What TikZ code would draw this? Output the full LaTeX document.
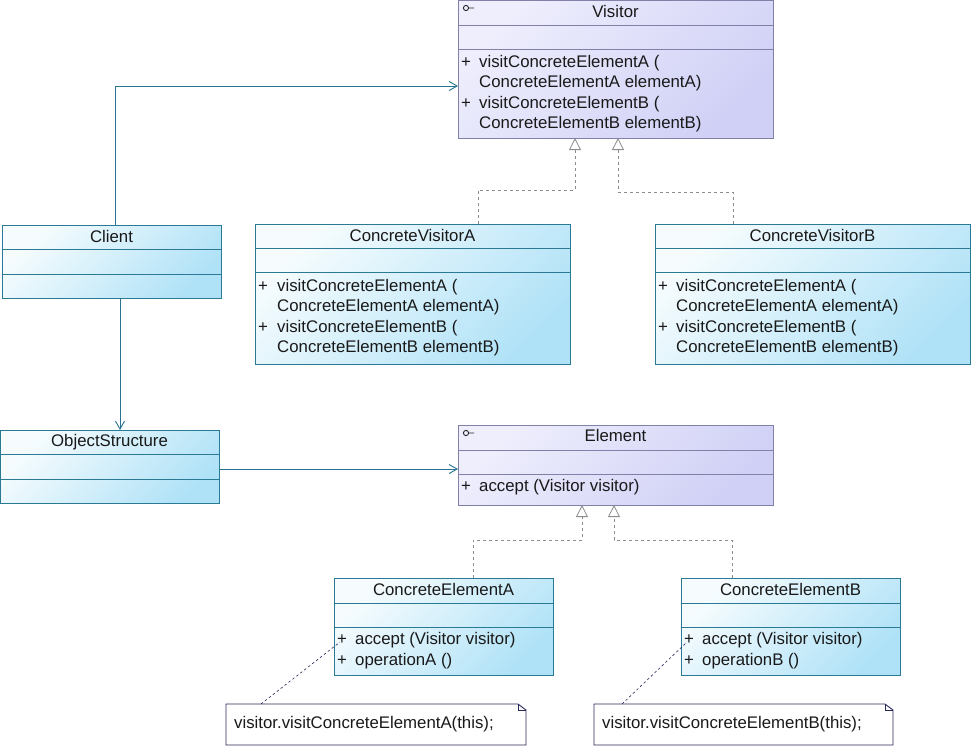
\documentclass[tikz,border=0pt]{standalone}
\usepackage{fontspec}
\setmainfont{Liberation Sans}
\usetikzlibrary{arrows.meta,calc}
\definecolor{cborder}{RGB}{42,122,150}
\definecolor{clight}{RGB}{246,252,254}
\definecolor{cdark}{RGB}{176,226,247}
\definecolor{iborder}{RGB}{128,128,168}
\definecolor{ilight}{RGB}{238,238,253}
\definecolor{idark}{RGB}{208,208,246}
\definecolor{acolor}{RGB}{40,115,145}
\definecolor{rcolor}{RGB}{140,140,140}
\definecolor{ncolor}{RGB}{40,40,90}
\definecolor{tcolor}{RGB}{25,25,25}
\begin{document}
\begin{tikzpicture}[x=1pt,y=-1pt,
  cbox/.style={draw=cborder,line width=0.9pt,top color=clight,bottom color=cdark,shading angle=45,anchor=north west,inner sep=0pt,outer sep=0pt},
  ibox/.style={draw=iborder,line width=0.9pt,top color=ilight,bottom color=idark,shading angle=45,anchor=north west,inner sep=0pt,outer sep=0pt},
  notebox/.style={anchor=north west,inner sep=0pt,outer sep=0pt},
  txt/.style={font={\fontsize{16.8}{20}\selectfont},text=tcolor,inner sep=0pt,anchor=base west},
  ttl/.style={font={\fontsize{16.8}{20}\selectfont},text=tcolor,inner sep=0pt,anchor=base},
  csep/.style={draw=cborder,line width=0.9pt},
  isep/.style={draw=iborder,line width=0.9pt},
  assoc/.style={draw=acolor,line width=0.9pt,-{Straight Barb[length=8pt,width=9pt,line width=0.9pt]}},
  realize/.style={draw=rcolor,line width=0.8pt,dash pattern=on 3pt off 3pt,-{Triangle[length=12pt,width=12pt,fill=white,line width=0.8pt]}},
  notelink/.style={draw=ncolor,line width=0.6pt,dash pattern=on 2.5pt off 2.5pt},
  noteline/.style={draw=ncolor,line width=0.9pt},
  icon/.style={draw=black!85,line width=0.9pt}]
\useasboundingbox[fill=white] (0,0) rectangle (973,747);

% ---------- Visitor ----------
\node[ibox,minimum width=315pt,minimum height=138pt] (visitor) at (458,0) {};
\draw[isep] (visitor.west |- 0,25) -- (visitor.east |- 0,25);
\draw[isep] (visitor.west |- 0,49) -- (visitor.east |- 0,49);
\draw[icon] ([xshift=8pt,yshift=-8pt]visitor.north west) circle[radius=2.6pt] ++(2.6,0) -- ++(5.5,0);
\node[ttl] (visitorT) at (615.5,17.5) {Visitor};
\node[txt] (visitorP1) at (461,67) {+};
\node[txt] (visitorM1) at (479,67) {visitConcreteElementA (};
\node[txt] (visitorM1b) at (479,87.5) {ConcreteElementA elementA)};
\node[txt] (visitorP2) at (461,108) {+};
\node[txt] (visitorM2) at (479,108) {visitConcreteElementB (};
\node[txt] (visitorM2b) at (479,128) {ConcreteElementB elementB)};

% ---------- Client ----------
\node[cbox,minimum width=219pt,minimum height=73pt] (client) at (2,225) {};
\draw[csep] (client.west |- 0,249) -- (client.east |- 0,249);
\draw[csep] (client.west |- 0,274) -- (client.east |- 0,274);
\node[ttl] (clientT) at (111.5,242) {Client};

% ---------- ConcreteVisitorA ----------
\node[cbox,minimum width=315pt,minimum height=140pt] (cva) at (255,224) {};
\draw[csep] (cva.west |- 0,248) -- (cva.east |- 0,248);
\draw[csep] (cva.west |- 0,272) -- (cva.east |- 0,272);
\node[ttl] (cvaT) at (412.5,241.5) {ConcreteVisitorA};
\node[txt] (cvaP1) at (258,291) {+};
\node[txt] (cvaM1) at (277,291) {visitConcreteElementA (};
\node[txt] (cvaM1b) at (277,311.5) {ConcreteElementA elementA)};
\node[txt] (cvaP2) at (258,332) {+};
\node[txt] (cvaM2) at (277,332) {visitConcreteElementB (};
\node[txt] (cvaM2b) at (277,352) {ConcreteElementB elementB)};

% ---------- ConcreteVisitorB ----------
\node[cbox,minimum width=315pt,minimum height=140pt] (cvb) at (655,224) {};
\draw[csep] (cvb.west |- 0,248) -- (cvb.east |- 0,248);
\draw[csep] (cvb.west |- 0,272) -- (cvb.east |- 0,272);
\node[ttl] (cvbT) at (812.5,241.5) {ConcreteVisitorB};
\node[txt] (cvbP1) at (658,291) {+};
\node[txt] (cvbM1) at (676,291) {visitConcreteElementA (};
\node[txt] (cvbM1b) at (676,311.5) {ConcreteElementA elementA)};
\node[txt] (cvbP2) at (658,332) {+};
\node[txt] (cvbM2) at (676,332) {visitConcreteElementB (};
\node[txt] (cvbM2b) at (676,352) {ConcreteElementB elementB)};

% ---------- ObjectStructure ----------
\node[cbox,minimum width=219pt,minimum height=73pt] (os) at (0,430) {};
\draw[csep] (os.west |- 0,454) -- (os.east |- 0,454);
\draw[csep] (os.west |- 0,479) -- (os.east |- 0,479);
\node[ttl] (osT) at (109.5,446.5) {ObjectStructure};

% ---------- Element ----------
\node[ibox,minimum width=315pt,minimum height=80pt] (element) at (458,425) {};
\draw[isep] (element.west |- 0,450) -- (element.east |- 0,450);
\draw[isep] (element.west |- 0,474) -- (element.east |- 0,474);
\draw[icon] ([xshift=8pt,yshift=-8pt]element.north west) circle[radius=2.6pt] ++(2.6,0) -- ++(5.5,0);
\node[ttl] (elementT) at (615.5,441.5) {Element};
\node[txt] (elementP1) at (461,491) {+};
\node[txt] (elementM1) at (479,491) {accept (Visitor visitor)};

% ---------- ConcreteElementA ----------
\node[cbox,minimum width=219pt,minimum height=97pt] (cea) at (334,578) {};
\draw[csep] (cea.west |- 0,603) -- (cea.east |- 0,603);
\draw[csep] (cea.west |- 0,627) -- (cea.east |- 0,627);
\node[ttl] (ceaT) at (443.5,595) {ConcreteElementA};
\node[txt] (ceaP1) at (337,644) {+};
\node[txt] (ceaM1) at (355,644) {accept (Visitor visitor)};
\node[txt] (ceaP2) at (337,665) {+};
\node[txt] (ceaM2) at (355,665) {operationA ()};

% ---------- ConcreteElementB ----------
\node[cbox,minimum width=219pt,minimum height=97pt] (ceb) at (681,578) {};
\draw[csep] (ceb.west |- 0,603) -- (ceb.east |- 0,603);
\draw[csep] (ceb.west |- 0,627) -- (ceb.east |- 0,627);
\node[ttl] (cebT) at (790.5,595) {ConcreteElementB};
\node[txt] (cebP1) at (684,644) {+};
\node[txt] (cebM1) at (702,644) {accept (Visitor visitor)};
\node[txt] (cebP2) at (684,665) {+};
\node[txt] (cebM2) at (702,665) {operationB ()};

% ---------- Notes ----------
\node[notebox,minimum width=300pt,minimum height=41pt] (noteA) at (226,704) {};
\draw[noteline] (noteA.north west) -- ([xshift=-8pt]noteA.north east) -- ([yshift=-6pt]noteA.north east) -- (noteA.south east) -- (noteA.south west) -- cycle;
\draw[noteline,line width=0.6pt] ([xshift=-8pt]noteA.north east) |- ([yshift=-6pt]noteA.north east);
\node[txt] (noteAT) at (234,728) {visitor.visitConcreteElementA(this);};

\node[notebox,minimum width=299pt,minimum height=41pt] (noteB) at (594,704) {};
\draw[noteline] (noteB.north west) -- ([xshift=-8pt]noteB.north east) -- ([yshift=-6pt]noteB.north east) -- (noteB.south east) -- (noteB.south west) -- cycle;
\draw[noteline,line width=0.6pt] ([xshift=-8pt]noteB.north east) |- ([yshift=-6pt]noteB.north east);
\node[txt] (noteBT) at (602,728) {visitor.visitConcreteElementB(this);};

% ---------- Connectors ----------
\draw[assoc] ([xshift=3.5pt]client.north) |- ([yshift=-17pt]visitor.west);
\draw[assoc] ([xshift=8.5pt]client.south) -- ([xshift=10.5pt]os.north);
\draw[assoc] ([yshift=-2.5pt]os.east) -- ([yshift=-2.5pt]os.east -| element.west);

\draw[realize] ([xshift=65.5pt]cva.north) -- ++(0,-34) -| ([xshift=-40.5pt]visitor.south);
\draw[realize] ([xshift=-79.5pt]cvb.north) -- ++(0,-32) -| ([xshift=2.5pt]visitor.south);
\draw[realize] ([xshift=29.5pt]cea.north) -- ++(0,-38) -| ([xshift=-33.5pt]element.south);
\draw[realize] ([xshift=-58.5pt]ceb.north) -- ++(0,-38) -| ([xshift=-1.5pt]element.south);

\draw[notelink] ([xshift=35pt]noteA.north west) -- ([xshift=6pt,yshift=-15.5pt]cea.west);
\draw[notelink] ([xshift=28pt]noteB.north west) -- ([xshift=6pt,yshift=-15.5pt]ceb.west);
\end{tikzpicture}
\end{document}
